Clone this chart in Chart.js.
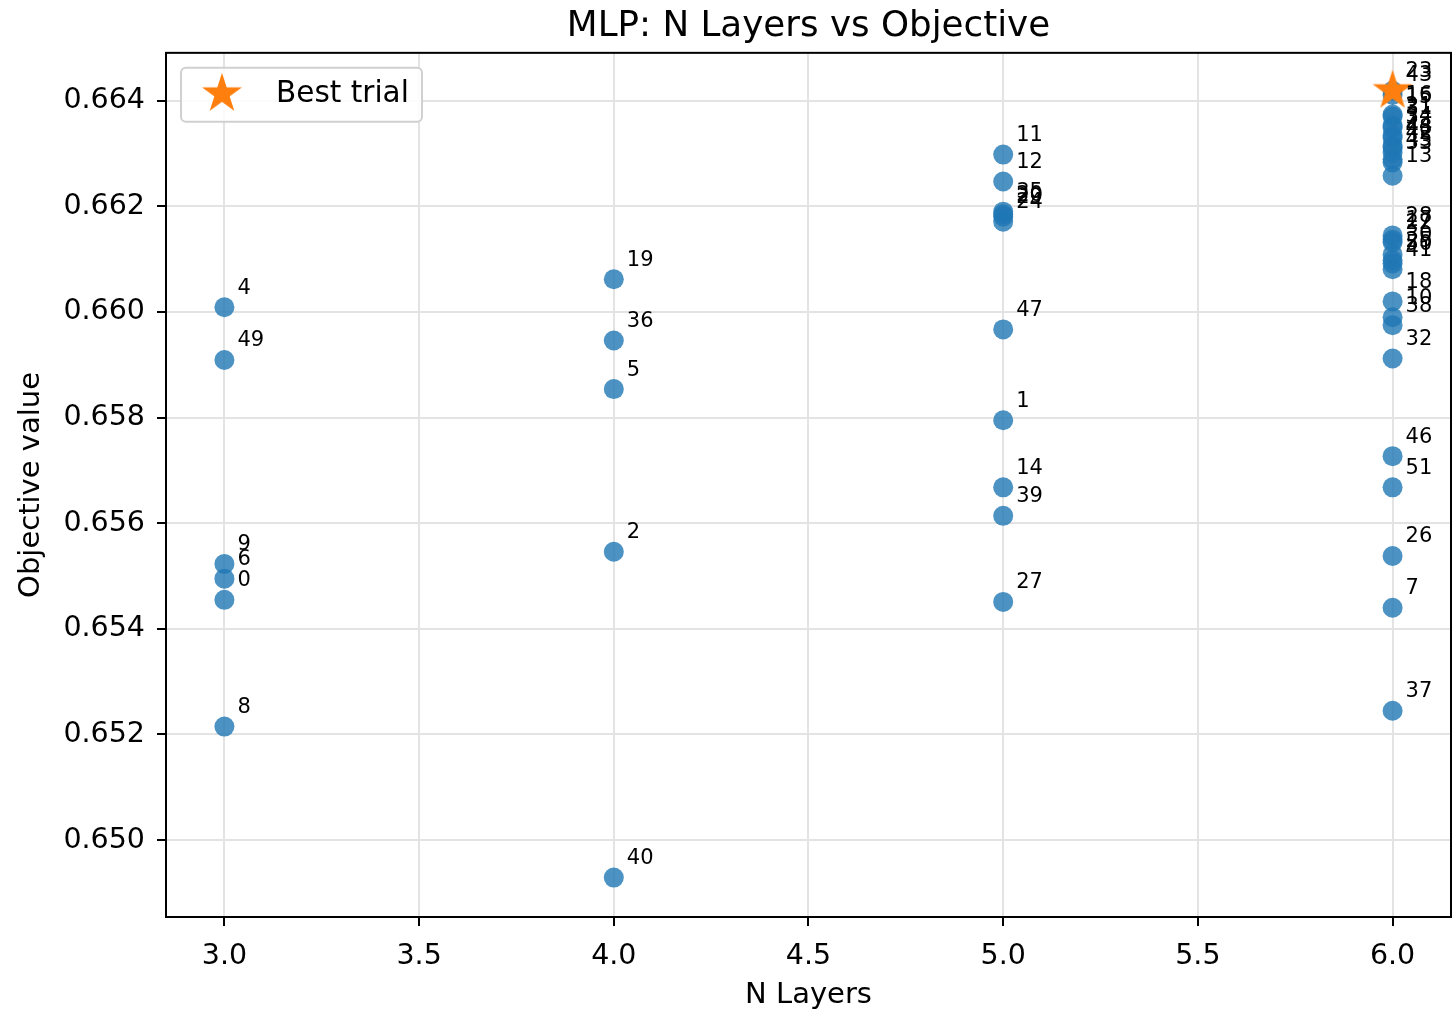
<!DOCTYPE html>
<html>
<head>
<meta charset="utf-8">
<script src="https://cdn.jsdelivr.net/npm/chart.js@4.4.1/dist/chart.umd.min.js"></script>
<style>
  html, body { margin: 0; padding: 0; background: #ffffff; }
  #wrap { width: 1452px; height: 1010px; }
</style>
</head>
<body>
<div id="wrap"><canvas id="chart" width="1452" height="1010"></canvas></div>
<script>
// Trials of the MLP study: trial number, layer count and objective value.
const trialNumbers = [
  0, 1, 2, 3, 4, 5, 6, 7, 8, 9,
  10, 11, 12, 13, 14, 15, 16, 17, 18, 19,
  20, 21, 22, 23, 24, 25, 26, 27, 28, 29,
  30, 31, 32, 33, 34, 35, 36, 37, 38, 39,
  40, 41, 42, 43, 44, 45, 46, 47, 48, 49,
  50, 51
];
const nLayers = [
  3, 5, 4, 6, 3, 4, 3, 6, 3, 3,
  6, 5, 5, 6, 5, 6, 6, 6, 6, 4,
  5, 6, 6, 6, 5, 6, 6, 5, 6, 5,
  6, 6, 6, 6, 6, 5, 4, 6, 6, 5,
  4, 6, 6, 6, 6, 6, 6, 5, 6, 3,
  6, 6
];
const objectiveValues = [
  0.65455, 0.65795, 0.65546, 0.66330, 0.66009, 0.65854, 0.65495, 0.65440, 0.65215, 0.65523,
  0.65990, 0.66298, 0.66247, 0.66258, 0.65668, 0.66370, 0.66374, 0.66137, 0.66020, 0.66062,
  0.66185, 0.66353, 0.66132, 0.66419, 0.66171, 0.66098, 0.65538, 0.65451, 0.66145, 0.66181,
  0.66109, 0.66349, 0.65912, 0.66283, 0.66334, 0.66190, 0.65946, 0.65245, 0.65975, 0.65614,
  0.64929, 0.66081, 0.66302, 0.66411, 0.66315, 0.66289, 0.65727, 0.65967, 0.66311, 0.65909,
  0.66092, 0.65668
];
const bestTrialNumber = 23;

const xTickValues = [3.0, 3.5, 4.0, 4.5, 5.0, 5.5, 6.0];
const yTickValues = [0.650, 0.652, 0.654, 0.656, 0.658, 0.660, 0.662, 0.664];

const FONT = "'DejaVu Sans', sans-serif";

// Filled five-point star used as the best-trial marker.
function starMarker(size, color) {
  const c = document.createElement('canvas');
  c.width = size; c.height = size;
  const g = c.getContext('2d');
  const r = size / 2 - 1, ri = r * 0.382;
  g.beginPath();
  for (let i = 0; i < 10; i++) {
    const a = -Math.PI / 2 + i * Math.PI / 5;
    const rr = i % 2 ? ri : r;
    g.lineTo(size / 2 + rr * Math.cos(a), size / 2 + rr * Math.sin(a));
  }
  g.closePath();
  g.fillStyle = color;
  g.fill();
  return c;
}
const star = starMarker(44, '#ff7f0e');

const trialPoints = trialNumbers.map((t, i) => ({ x: nLayers[i], y: objectiveValues[i], trial: t }));
const bestIndex = trialNumbers.indexOf(bestTrialNumber);
const bestPoints = [{ x: nLayers[bestIndex], y: objectiveValues[bestIndex], trial: bestTrialNumber }];

// Box around the plotting area.
const framePlugin = {
  id: 'frame',
  beforeDatasetsDraw(chart) {
    const { ctx, chartArea: a } = chart;
    ctx.save();
    ctx.strokeStyle = '#000000';
    ctx.lineWidth = 2;
    ctx.strokeRect(a.left, a.top, a.right - a.left, a.bottom - a.top);
    ctx.restore();
  }
};

// Trial number written beside each point.
const trialLabelPlugin = {
  id: 'trialLabels',
  afterDatasetsDraw(chart) {
    const { ctx } = chart;
    const meta = chart.getDatasetMeta(0);
    ctx.save();
    ctx.font = '21px ' + FONT;
    ctx.fillStyle = '#000000';
    ctx.textAlign = 'left';
    ctx.textBaseline = 'middle';
    meta.data.forEach((el, i) => {
      ctx.fillText(String(trialPoints[i].trial), el.x + 13, el.y - 19);
    });
    ctx.restore();
  }
};

// Legend box in the upper-left corner of the plot.
const legendBoxPlugin = {
  id: 'legendBox',
  afterDraw(chart) {
    const { ctx, chartArea: a } = chart;
    const x = a.left + 15, y = a.top + 15, w = 241, h = 54;
    ctx.save();
    ctx.beginPath();
    ctx.roundRect(x, y, w, h, 5);
    ctx.fillStyle = 'rgba(255,255,255,0.85)';
    ctx.fill();
    ctx.strokeStyle = '#d0d0d0';
    ctx.lineWidth = 2;
    ctx.stroke();
    ctx.drawImage(star, x + 41 - star.width / 2, y + 26 - star.height / 2);
    ctx.font = '29.5px ' + FONT;
    ctx.fillStyle = '#000000';
    ctx.textAlign = 'left';
    ctx.textBaseline = 'middle';
    ctx.fillText(chart.data.datasets[1].label, x + 95, y + 27);
    ctx.restore();
  }
};

new Chart(document.getElementById('chart'), {
  type: 'scatter',
  data: {
    datasets: [
      {
        label: 'Trials',
        data: trialPoints,
        backgroundColor: 'rgba(31,119,180,0.8)',
        borderColor: 'rgba(31,119,180,0.8)',
        borderWidth: 0,
        pointRadius: 10,
        pointHoverRadius: 10,
        order: 2
      },
      {
        label: 'Best trial',
        data: bestPoints,
        pointStyle: star,
        pointRadius: 22,
        order: 1
      }
    ]
  },
  options: {
    responsive: false,
    animation: false,
    devicePixelRatio: 1,
    layout: { autoPadding: false, padding: { left: 0, right: 1, top: 0, bottom: 0 } },
    plugins: {
      legend: { display: false },
      tooltip: { enabled: false },
      title: {
        display: true,
        text: 'MLP: N Layers vs Objective',
        fullSize: false,
        color: '#000000',
        font: { family: FONT, size: 35.7, weight: 'normal' },
        padding: { top: 5, bottom: 5 }
      }
    },
    scales: {
      x: {
        type: 'linear',
        min: 2.85,
        max: 6.15,
        afterBuildTicks(axis) { axis.ticks = xTickValues.map(v => ({ value: v })); },
        afterFit(axis) { axis.height = 93; axis.paddingLeft = 0; axis.paddingRight = 0; },
        border: { display: false },
        grid: { color: '#e3e3e3', lineWidth: 2, tickColor: '#000000', tickLength: 9, tickWidth: 2 },
        ticks: {
          color: '#000000',
          font: { family: FONT, size: 28.5 },
          padding: 13,
          maxRotation: 0,
          callback: v => Number(v).toFixed(1)
        },
        title: {
          display: true,
          text: 'N Layers',
          color: '#000000',
          font: { family: FONT, size: 29 },
          padding: { top: 0, bottom: -3 }
        }
      },
      y: {
        type: 'linear',
        min: 0.648544,
        max: 0.664907,
        afterBuildTicks(axis) { axis.ticks = yTickValues.map(v => ({ value: v })); },
        afterFit(axis) { axis.width = 166; axis.paddingTop = 0; axis.paddingBottom = 0; },
        border: { display: false },
        grid: { color: '#e3e3e3', lineWidth: 2, tickColor: '#000000', tickLength: 9, tickWidth: 2 },
        ticks: {
          color: '#000000',
          font: { family: FONT, size: 28.5 },
          padding: 12,
          callback: v => Number(v).toFixed(3)
        },
        title: {
          display: true,
          text: 'Objective value',
          color: '#000000',
          font: { family: FONT, size: 29 },
          padding: { top: 14, bottom: 0 }
        }
      }
    }
  },
  plugins: [framePlugin, trialLabelPlugin, legendBoxPlugin]
});
</script>
</body>
</html>
